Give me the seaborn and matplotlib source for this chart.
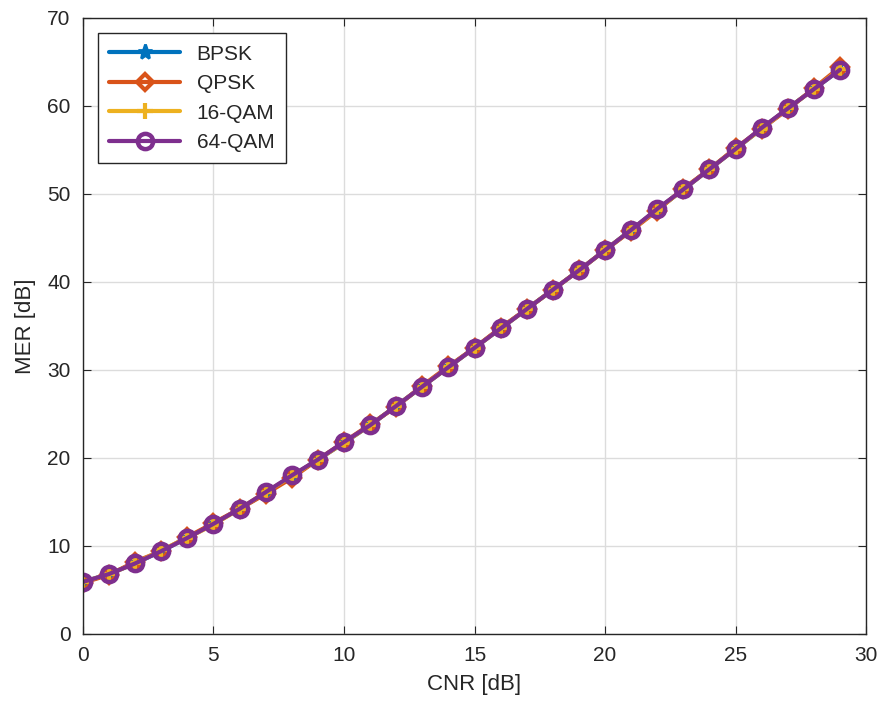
import numpy as np
import pandas as pd
import matplotlib
matplotlib.use("Agg")
import matplotlib.pyplot as plt
import seaborn as sns

# CNR grid and MER readings per modulation
cnr = list(range(30))
mer_bpsk = [5.9, 6.8, 8.0, 9.4, 10.9, 12.5, 14.2, 16.0, 17.9, 19.8,
            21.7, 23.7, 25.9, 28.1, 30.3, 32.5, 34.7, 36.9, 39.1, 41.3,
            43.6, 45.9, 48.2, 50.5, 52.8, 55.1, 57.4, 59.7, 61.9, 64.1]
mer_qpsk = [5.8, 6.7, 8.2, 9.4, 11.0, 12.6, 14.2, 15.9, 17.7, 19.8,
            21.8, 23.8, 25.8, 28.2, 30.4, 32.5, 34.8, 36.9, 39.1, 41.3,
            43.6, 45.8, 48.1, 50.6, 52.8, 55.2, 57.4, 59.6, 62.0, 64.4]
mer_16qam = [5.9, 6.8, 8.0, 9.5, 10.9, 12.4, 14.2, 16.1, 17.9, 19.8,
             21.7, 23.7, 25.9, 28.1, 30.3, 32.5, 34.7, 36.9, 39.1, 41.3,
             43.6, 45.9, 48.2, 50.5, 52.8, 55.1, 57.4, 59.7, 61.9, 64.2]
mer_64qam = [5.9, 6.8, 8.0, 9.4, 10.9, 12.5, 14.2, 16.1, 18.0, 19.8,
             21.8, 23.7, 25.9, 28.1, 30.3, 32.5, 34.7, 36.9, 39.1, 41.3,
             43.6, 45.9, 48.3, 50.5, 52.8, 55.1, 57.5, 59.7, 61.9, 64.1]
labels = ["BPSK", "QPSK", "16-QAM", "64-QAM"]
colors = ["#0072BD", "#D95319", "#EDB120", "#7E2F8E"]

sns.set_style("ticks")
plt.rcParams["font.family"] = ["Liberation Sans", "DejaVu Sans"]

fig = plt.figure(figsize=(8.82, 7.13), dpi=100)
ax = fig.add_axes([0.094, 0.111, 0.888, 0.864])

# marker styles, MATLAB-like: asterisk, open diamond, plus, open circle
styles = [
    dict(marker="*", markersize=11, markerfacecolor=colors[0], markeredgecolor=colors[0], markeredgewidth=2),
    dict(marker="D", markersize=8.5, markerfacecolor="none", markeredgecolor=colors[1], markeredgewidth=3),
    dict(marker="+", markersize=12, markeredgecolor=colors[2], markeredgewidth=3),
    dict(marker="o", markersize=11, markerfacecolor="none", markeredgecolor=colors[3], markeredgewidth=3.2),
]

for m, lab, c, st in zip([mer_bpsk, mer_qpsk, mer_16qam, mer_64qam], labels, colors, styles):
    sns.lineplot(x=cnr, y=m, color=c, linewidth=3, label=lab, ax=ax, **st)

ax.set_xlim(0, 30)
ax.set_ylim(0, 70)
ax.set_xticks(range(0, 31, 5))
ax.set_yticks(range(0, 71, 10))
ax.grid(True, color="#dcdcdc", linewidth=1)
ax.tick_params(direction="in", labelsize=15, length=6, top=True, right=True,
               colors="#262626", pad=9)
for s in ax.spines.values():
    s.set_color("#262626")
    s.set_linewidth(1)

ax.set_xlabel("CNR [dB]", fontsize=16, color="#262626", labelpad=6)
ax.set_ylabel("MER [dB]", fontsize=16, color="#262626", labelpad=8)

leg = ax.legend(loc="upper left", fontsize=15, frameon=True,
                fancybox=False, edgecolor="#262626", handlelength=3.4,
                borderpad=0.55, labelspacing=0.5, framealpha=1,
                borderaxespad=0, bbox_to_anchor=(0.019, 0.975))
leg.get_frame().set_linewidth(1)

fig.savefig("out.png", dpi=100)
